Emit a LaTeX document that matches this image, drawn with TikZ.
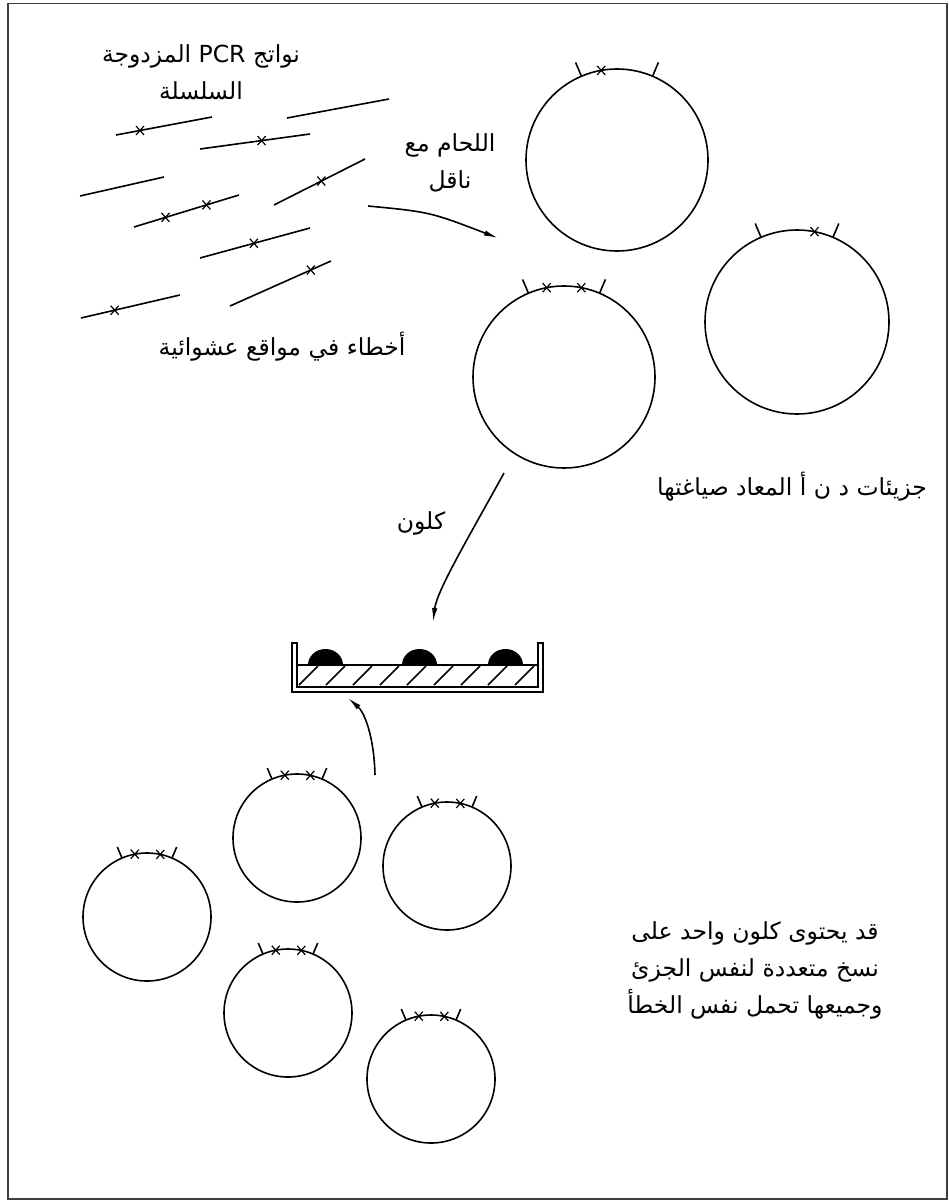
\documentclass[tikz,border=0pt]{standalone}
\usepackage{fontspec}
\usetikzlibrary{arrows.meta,calc}
\newfontfamily\arabicfont[Script=Arabic]{DejaVu Sans}
\TeXXeTstate=1

% plasmid: centre, radius, tick length, star angles (0 = top, + = clockwise)
\newcommand\drawplasmid[4]{%
  \draw[ink] (#1) circle[radius=#2];
  \draw[ink] ($(#1)+(-113:#2)$) -- ($(#1)+(-113:#2+#3)$);
  \draw[ink] ($(#1)+(-67:#2)$) -- ($(#1)+(-67:#2+#3)$);
  \foreach \a in {#4} {\pic at ($(#1)+(-90+\a:#2)$) {errmark};}
}

\begin{document}
\begin{tikzpicture}[x=1pt,y=-1pt,
  ink/.style={line width=1.6pt, black},
  flow/.style={ink, -{Latex[length=14pt,width=5.5pt]}},
  lbl/.style={font=\arabicfont\fontsize{23.5}{37}\selectfont, align=center, inner sep=0pt},
  errmark/.pic={\draw[line width=1.2pt] (-4,-4.5)--(4,4.5) (-4,4.5)--(4,-4.5);},
]
\useasboundingbox (0,0) rectangle (949,1201);
\draw[line width=1.2pt, black!75] (8,3.5) rectangle (947,1199);

% PCR products
\draw[ink] (116,135) -- (212,117); \pic at ($(116,135)!0.25!(212,117)$) {errmark};
\draw[ink] (287,118) -- (389,99);
\draw[ink] (200,149) -- (310,134); \pic at ($(200,149)!0.56!(310,134)$) {errmark};
\draw[ink] (80,196) -- (164,177);
\draw[ink] (274,205) -- (365,159); \pic at ($(274,205)!0.52!(365,159)$) {errmark};
\draw[ink] (134,227) -- (239,195); \pic at ($(134,227)!0.30!(239,195)$) {errmark};
                                    \pic at ($(134,227)!0.69!(239,195)$) {errmark};
\draw[ink] (200,258) -- (310,228); \pic at ($(200,258)!0.49!(310,228)$) {errmark};
\draw[ink] (230,306) -- (331,261); \pic at ($(230,306)!0.80!(331,261)$) {errmark};
\draw[ink] (81,318) -- (180,295);  \pic at ($(81,318)!0.34!(180,295)$) {errmark};

% recombinant molecules
\coordinate (p1) at (617,160);
\coordinate (p2) at (797,322);
\coordinate (p3) at (564,377);
\drawplasmid{p1}{91}{15}{-10}
\drawplasmid{p2}{92}{15}{11}
\drawplasmid{p3}{91}{15}{-11,11}

% copies of one molecule
\coordinate (q1) at (297,838);
\coordinate (q2) at (447,866);
\coordinate (q3) at (147,917);
\coordinate (q4) at (288,1013);
\coordinate (q5) at (431,1079);
\foreach \q in {q1,q2,q3,q4,q5} {\drawplasmid{\q}{64}{12}{-11,12}}

% culture dish with colonies
\draw[ink] (292,643) -- (292,692) -- (543,692) -- (543,643) -- (538,643)
           -- (538,687) -- (297,687) -- (297,643) -- cycle;
\draw[ink] (297,665) -- (538,665);
\foreach \x in {299,326,...,515} {\draw[ink] (\x,685) -- (\x+19,666);}
\foreach \x in {325.5,419.5,505.5}
  {\fill (\x-17.5,665) arc[start angle=180,end angle=360,x radius=17.5,y radius=16] -- cycle;}
\coordinate (dish) at (348,698);

% connectors
\coordinate (ligfrom) at (368,206);
\coordinate (ligto) at (498,238);
\draw[flow] (ligfrom) .. controls (430,212) .. (ligto);
\coordinate (clonefrom) at (504,473);
\coordinate (cloneto) at (433,622);
\draw[flow] (clonefrom) .. controls (470,535) and (437,590) .. (cloneto);
\coordinate (pickfrom) at (375,775);
\draw[flow] (pickfrom) .. controls (374,735) and (364,712) .. (dish);

% labels
\node[lbl] (pcr) at (201,72) {\beginR نواتج \beginL PCR\endL{} المزدوجة\endR\\\beginR السلسلة\endR};
\node[lbl] (lig) at (450,163) {\beginR اللحام مع\endR\\\beginR ناقل\endR};
\node[lbl] (err) at (282,347) {\beginR أخطاء في مواقع عشوائية\endR};
\node[lbl] (recomb) at (792,487) {\beginR جزيئات د ن أ المعاد صياغتها\endR};
\node[lbl] (clone) at (421,523) {\beginR كلون\endR};
\node[lbl] (note) at (755,970) {\beginR قد يحتوى كلون واحد على\endR\\\beginR نسخ متعددة لنفس الجزئ\endR\\\beginR وجميعها تحمل نفس الخطأ\endR};
\end{tikzpicture}
\end{document}
